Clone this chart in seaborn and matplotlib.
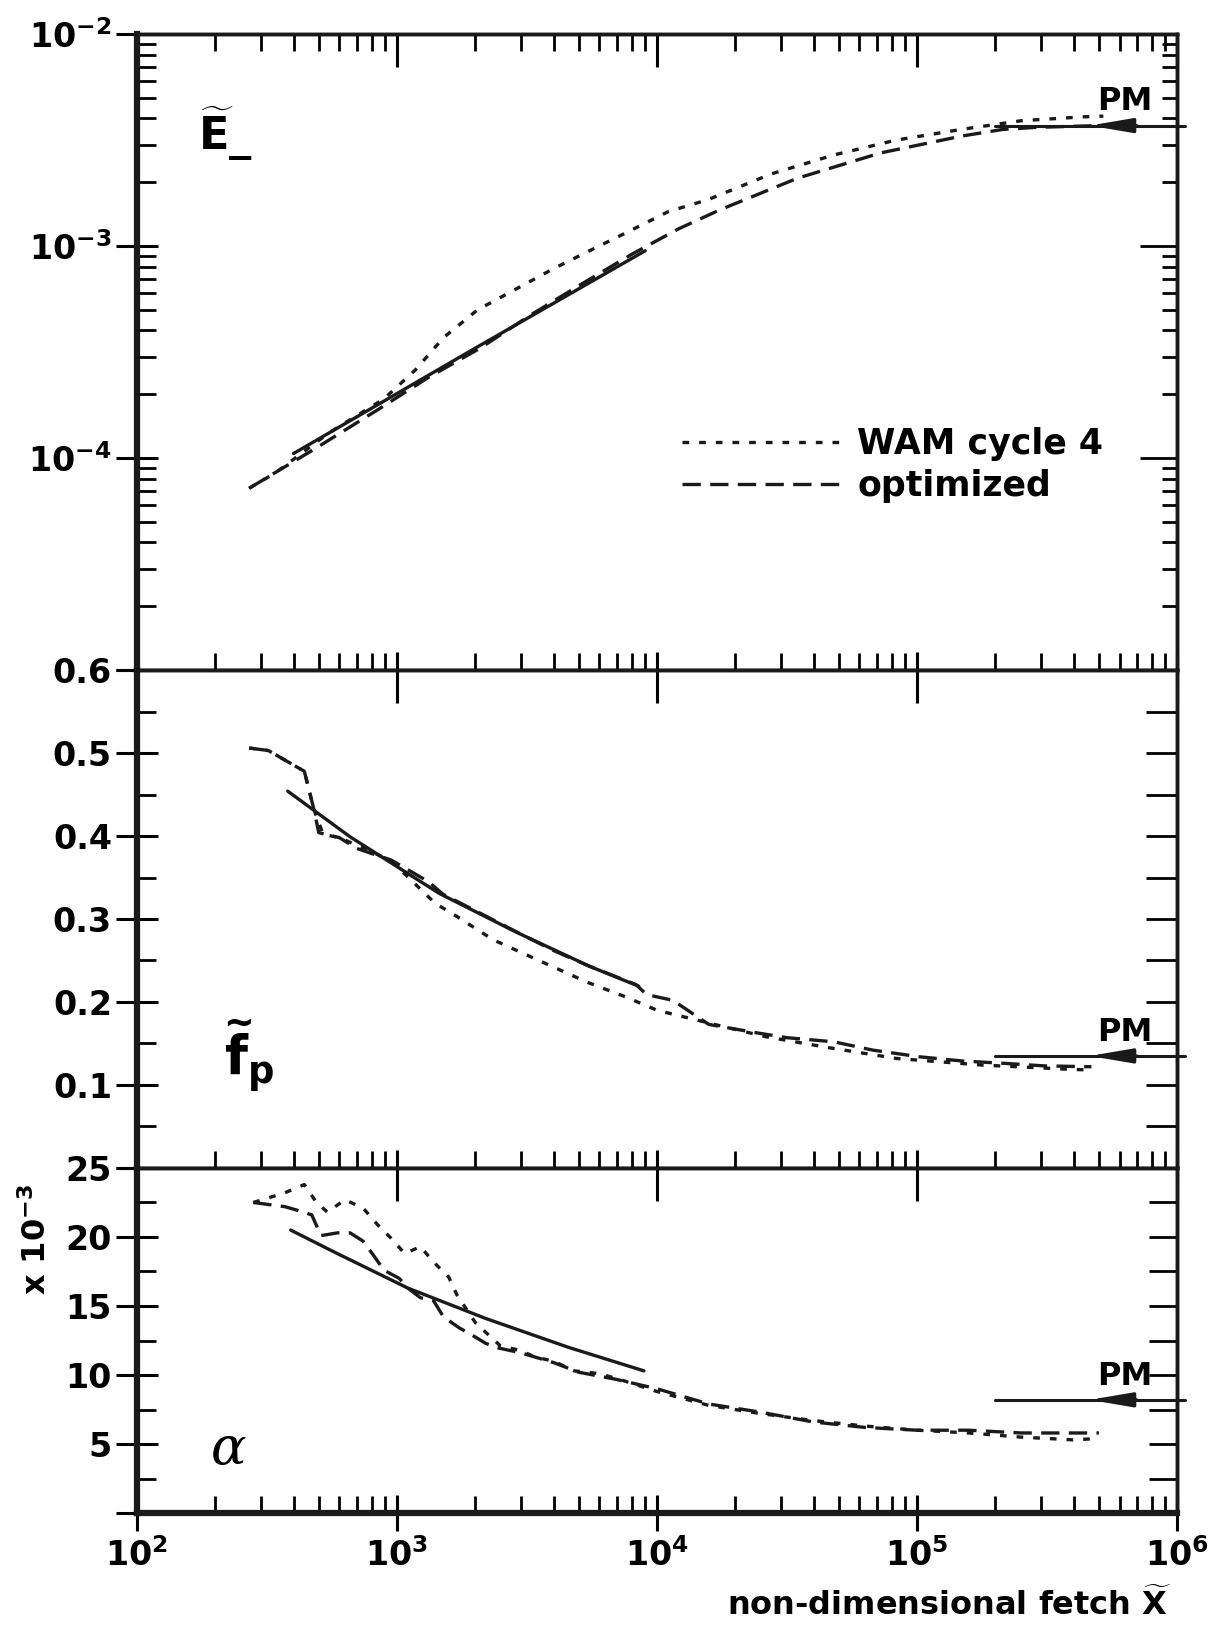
import numpy as np
import pandas as pd
import matplotlib
matplotlib.use('Agg')
import matplotlib.pyplot as plt
import seaborn as sns
from matplotlib.ticker import FixedLocator, LogLocator, MultipleLocator, NullFormatter, FixedFormatter

# ---- values ----
# top panel: non-dimensional energy
e_wam_x = [270, 340, 550, 890, 1175, 1510, 2040, 2820, 3980, 5500, 7760, 11000,
           15800, 27500, 47900, 83000, 148000, 251000, 437000, 520000]
e_wam_y = [7.2e-5, 8.5e-5, 1.32e-4, 1.9e-4, 2.6e-4, 3.7e-4, 5.0e-4, 6.2e-4, 7.8e-4,
           9.5e-4, 1.17e-3, 1.45e-3, 1.66e-3, 2.19e-3, 2.69e-3, 3.16e-3, 3.55e-3,
           3.9e-3, 4.07e-3, 4.1e-3]
e_opt_x = [270, 480, 850, 1320, 2090, 3240, 5000, 7940, 12000, 17400, 34700, 72400,
           148000, 214000, 288000, 500000]
e_opt_y = [7.2e-5, 1.1e-4, 1.7e-4, 2.4e-4, 3.3e-4, 4.7e-4, 6.5e-4, 9.1e-4, 1.2e-3,
           1.48e-3, 2.09e-3, 2.75e-3, 3.3e-3, 3.55e-3, 3.63e-3, 3.7e-3]
e_obs_x = [400, 2000, 9000]
e_obs_y = [1.05e-4, 3.3e-4, 9.5e-4]
e_pm = 3.7e-3

# middle panel: non-dimensional peak frequency
f_wam_x = [270, 320, 440, 480, 520, 600, 700, 950, 1400, 1700, 2340, 3240, 5370,
           7590, 10000, 18200, 26300, 45700, 83200, 178000, 380000, 468000]
f_wam_y = [0.506, 0.503, 0.478, 0.431, 0.402, 0.398, 0.389, 0.370, 0.319, 0.303,
           0.275, 0.255, 0.224, 0.206, 0.190, 0.170, 0.158, 0.145, 0.132, 0.124,
           0.119, 0.118]
f_opt_x = [270, 320, 440, 480, 500, 600, 700, 950, 1320, 1500, 2000, 2900, 4000,
           5500, 8300, 9100, 11500, 15800, 24000, 31600, 47900, 67600, 102000,
           148000, 219000, 309000, 468000]
f_opt_y = [0.506, 0.503, 0.478, 0.431, 0.404, 0.398, 0.385, 0.371, 0.345, 0.330,
           0.310, 0.284, 0.262, 0.243, 0.221, 0.209, 0.202, 0.173, 0.163, 0.157,
           0.152, 0.142, 0.134, 0.129, 0.126, 0.123, 0.122]
f_obs_x = [380, 660, 1450, 2880, 5500, 8500]
f_obs_y = [0.454, 0.399, 0.331, 0.284, 0.243, 0.219]
f_pm = 0.135

# bottom panel: Phillips parameter (x 1e-3)
a_wam_x = [280, 370, 440, 490, 540, 630, 740, 850, 950, 1070, 1230, 1380, 1580, 1700,
           2000, 2500, 2950, 3400, 4000, 4800, 6000, 7400, 10000, 15800, 25100,
           39800, 63100, 100000, 158000, 251000, 398000, 500000]
a_wam_y = [22.5, 23.2, 23.8, 22.5, 21.8, 22.7, 22.1, 20.8, 19.9, 18.8, 19.3, 18.2,
           17.1, 15.8, 13.8, 12.1, 11.8, 11.3, 11.0, 10.3, 10.1, 9.6, 8.8, 7.8, 7.2,
           6.7, 6.3, 6.0, 5.8, 5.5, 5.3, 5.4]
a_opt_x = [280, 370, 420, 470, 510, 590, 660, 740, 810, 890, 1020, 1100, 1230, 1380,
           1510, 1740, 1900, 2190, 2400, 3000, 4000, 5000, 6900, 10000, 15800,
           25100, 39800, 63100, 100000, 158000, 251000, 398000, 500000]
a_opt_y = [22.5, 22.2, 21.9, 21.6, 20.1, 20.3, 20.3, 19.7, 18.7, 17.6, 17.0, 16.3,
           15.6, 15.4, 14.2, 13.4, 13.0, 12.3, 12.0, 11.6, 10.9, 10.2, 9.7, 9.0,
           7.9, 7.3, 6.6, 6.2, 6.0, 6.0, 5.8, 5.8, 5.8]
a_obs_x = [390, 575, 1100, 2190, 4570, 8900]
a_obs_y = [20.5, 18.9, 16.3, 14.1, 12.0, 10.3]
a_pm = 8.2

x_ticks = [1e2, 1e3, 1e4, 1e5, 1e6]
x_ticklabels = ['$10^{2}$', '$10^{3}$', '$10^{4}$', '$10^{5}$', '$10^{6}$']
e_ticks = [1e-5, 1e-4, 1e-3, 1e-2]
e_ticklabels = ['', '$10^{-4}$', '$10^{-3}$', '$10^{-2}$']
f_ticks = [0.0, 0.1, 0.2, 0.3, 0.4, 0.5, 0.6]
f_ticklabels = ['', '0.1', '0.2', '0.3', '0.4', '0.5', '0.6']
a_ticks = [0, 5, 10, 15, 20, 25]
a_ticklabels = ['', '5', '10', '15', '20', '25']

pm_start, pm_tip, pm_tail, pm_text_x = 2.0e5, 4.6e5, 7.0e5, 8.0e5

# ---- style ----
sns.set_theme(style='ticks')
plt.rcParams['font.family'] = ['DejaVu Sans']
plt.rcParams['font.weight'] = 'bold'
plt.rcParams['mathtext.fontset'] = 'custom'
plt.rcParams['mathtext.rm'] = 'DejaVu Sans:bold'
plt.rcParams['mathtext.bf'] = 'DejaVu Sans:bold'
plt.rcParams['mathtext.it'] = 'DejaVu Sans:bold:italic'
for key in ['text.color', 'axes.labelcolor', 'xtick.color', 'ytick.color', 'axes.edgecolor']:
    plt.rcParams[key] = 'black'

DOT = (0, (2.0, 3.0))
DASH = (0, (5.5, 2.8))
LW = 2.4

fig = plt.figure(figsize=(12.09, 16.29), dpi=100)
L, W = 0.1133, 0.8604
ax_e = fig.add_axes([L, 0.5887, W, 0.9791 - 0.5887])
ax_f = fig.add_axes([L, 0.2830, W, 0.5887 - 0.2830])
ax_a = fig.add_axes([L, 0.0712, W, 0.2830 - 0.0712])
axes = [ax_e, ax_f, ax_a]

for ax in axes:
    ax.set_xscale('log')
ax_e.set_yscale('log')


def draw(ax, x, y, ls, label=None):
    sns.lineplot(x=x, y=y, ax=ax, color='k', lw=LW, linestyle=ls,
                 estimator=None, sort=False, label=label)


draw(ax_e, e_wam_x, e_wam_y, DOT, 'WAM cycle 4')
draw(ax_e, e_opt_x, e_opt_y, DASH, 'optimized')
draw(ax_e, e_obs_x, e_obs_y, '-')
draw(ax_f, f_wam_x, f_wam_y, DOT)
draw(ax_f, f_opt_x, f_opt_y, DASH)
draw(ax_f, f_obs_x, f_obs_y, '-')
draw(ax_a, a_wam_x, a_wam_y, DOT)
draw(ax_a, a_opt_x, a_opt_y, DASH)
draw(ax_a, a_obs_x, a_obs_y, '-')

ax_e.set_ylim(1e-5, 1e-2)
ax_f.set_ylim(0, 0.6)
ax_a.set_ylim(0, 25)

# PM limits
for ax, level in [(ax_e, e_pm), (ax_f, f_pm), (ax_a, a_pm)]:
    ax.plot([pm_start, 1.07e6], [level, level], color='k', lw=2.2, clip_on=False)
    ax.annotate('', xy=(pm_tip, level), xytext=(pm_tail, level),
                arrowprops=dict(arrowstyle='-|>,head_length=1.3,head_width=0.22',
                                color='k', lw=2.2, shrinkA=0, shrinkB=0,
                                mutation_scale=20))
    ax.annotate('PM', xy=(pm_text_x, level), xytext=(0, 6), textcoords='offset points',
                ha='right', va='bottom', fontsize=23, fontweight='bold')

# axes, ticks
tick_font = 24
for ax in axes:
    ax.set_xlim(1e2, 1e6)
    ax.set_xlabel('')
    ax.set_ylabel('')
    ax.xaxis.set_major_locator(FixedLocator(x_ticks))
    ax.xaxis.set_minor_locator(LogLocator(base=10, subs=np.arange(2, 10)))
    ax.xaxis.set_minor_formatter(NullFormatter())
    ax.tick_params(axis='x', which='major', direction='inout', length=26, width=2.2,
                   top=False, bottom=True, pad=5, labelsize=tick_font)
    ax.tick_params(axis='x', which='minor', direction='in', length=12, width=2,
                   top=False, bottom=True)
    ax.tick_params(axis='y', which='major', direction='inout', length=30, width=2.2,
                   right=False, left=True, pad=3, labelsize=tick_font)
    ax.tick_params(axis='y', which='minor', direction='in', length=14, width=2,
                   right=False, left=True)
    for s in ax.spines.values():
        s.set_linewidth(2.5)
        s.set_color('k')
    ax.spines['left'].set_linewidth(4.5)
    ax.set_facecolor('white')

ax_a.spines['bottom'].set_linewidth(4.5)
ax_e.tick_params(axis='x', labelbottom=False)
ax_f.tick_params(axis='x', labelbottom=False)
ax_a.xaxis.set_major_formatter(FixedFormatter(x_ticklabels))

ax_e.yaxis.set_major_locator(FixedLocator(e_ticks))
ax_e.yaxis.set_major_formatter(FixedFormatter(e_ticklabels))
ax_e.yaxis.set_minor_locator(LogLocator(base=10, subs=np.arange(2, 10)))
ax_e.yaxis.set_minor_formatter(NullFormatter())
ax_f.yaxis.set_major_locator(FixedLocator(f_ticks))
ax_f.yaxis.set_major_formatter(FixedFormatter(f_ticklabels))
ax_f.yaxis.set_minor_locator(MultipleLocator(0.05))
ax_a.yaxis.set_major_locator(FixedLocator(a_ticks))
ax_a.yaxis.set_major_formatter(FixedFormatter(a_ticklabels))
ax_a.yaxis.set_minor_locator(MultipleLocator(2.5))

# top and right ticks point inward only
for i, ax in enumerate(axes):
    top = ax.secondary_xaxis('top')
    top.xaxis.set_major_locator(FixedLocator(x_ticks))
    top.tick_params(axis='x', which='major', direction='in', length=24, width=2.2,
                    labeltop=False)
    if i == 0:
        top.xaxis.set_minor_locator(LogLocator(base=10, subs=np.arange(2, 10)))
        top.tick_params(axis='x', which='minor', direction='in', length=12, width=2)
    else:
        top.tick_params(axis='x', which='minor', length=0)
    top.xaxis.set_minor_formatter(NullFormatter())
    top.spines['top'].set_linewidth(2.5)

    right = ax.secondary_yaxis('right')
    right.tick_params(axis='y', which='both', direction='in', width=2,
                      labelright=False)
    right.spines['right'].set_linewidth(2.5)
    if i == 0:
        right.yaxis.set_major_locator(FixedLocator(e_ticks))
        right.yaxis.set_minor_locator(LogLocator(base=10, subs=np.arange(2, 10)))
        right.tick_params(axis='y', which='major', length=27)
        right.tick_params(axis='y', which='minor', length=11)
    elif i == 1:
        right.yaxis.set_major_locator(MultipleLocator(0.05))
        right.tick_params(axis='y', which='major', length=22)
        right.tick_params(axis='y', which='minor', length=0)
    else:
        right.yaxis.set_major_locator(MultipleLocator(2.5))
        right.tick_params(axis='y', which='major', length=20)
        right.tick_params(axis='y', which='minor', length=0)
    right.yaxis.set_minor_formatter(NullFormatter())

# legend
leg = ax_e.legend(loc='center left', bbox_to_anchor=(0.524, 0.322), frameon=False,
                  handlelength=4.7, handletextpad=0.35, labelspacing=0.22,
                  borderpad=0, borderaxespad=0, prop={'weight': 'bold', 'size': 25})

# panel labels
ax_e.text(0.085, 0.842, r'$\widetilde{\mathrm{E}}$_', transform=ax_e.transAxes,
          fontsize=32, ha='center', va='center')
ax_f.text(0.108, 0.225, r'$\widetilde{\mathrm{f}}_{\mathrm{p}}$', transform=ax_f.transAxes,
          fontsize=38, ha='center', va='center')
ax_a.text(0.088, 0.185, 'α', transform=ax_a.transAxes, fontsize=38,
          fontstyle='italic', fontweight='normal', family='DejaVu Serif',
          ha='center', va='center')

fig.text(0.030, 0.2394, r'x $10^{-3}$', rotation=90, fontsize=23,
         ha='center', va='center')
fig.text(0.969, 0.004, r'non-dimensional fetch $\widetilde{\mathrm{X}}$', fontsize=23,
         ha='right', va='bottom')

fig.savefig('out.png', dpi=100, facecolor='white')
